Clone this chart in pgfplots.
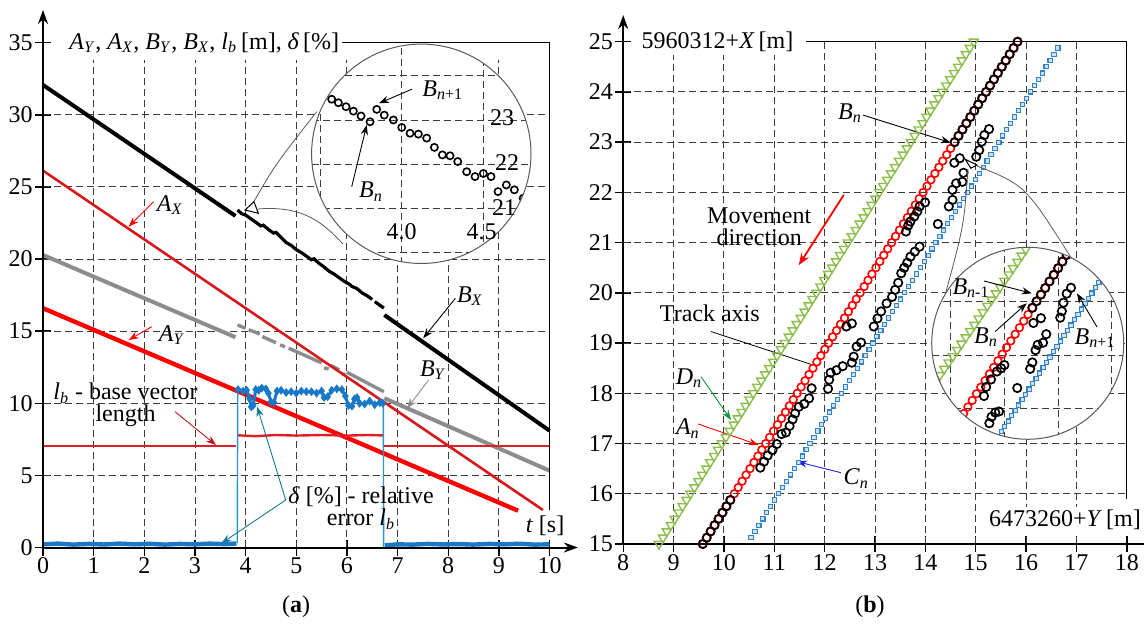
\documentclass[border=0pt]{standalone}
\usepackage{fontspec}
\setmainfont{Liberation Serif}
\usepackage{pgfplots}
\pgfplotsset{compat=1.18}
\usetikzlibrary{arrows.meta}
\newcommand{\sub}[2]{\textit{#1}\textsubscript{\textit{#2}}}
\definecolor{redX}{RGB}{215,25,30}
\definecolor{redA}{RGB}{255,0,0}
\definecolor{lbred}{RGB}{225,30,40}
\definecolor{grayB}{RGB}{140,140,140}
\definecolor{blueD}{RGB}{25,120,200}
\definecolor{blueV}{RGB}{40,150,200}
\definecolor{tealA}{RGB}{20,120,150}
\definecolor{darkred}{RGB}{180,20,30}
\definecolor{greenD}{RGB}{140,190,75}
\definecolor{greenA}{RGB}{20,150,60}
\definecolor{blueC}{RGB}{50,130,200}
\definecolor{blueCa}{RGB}{30,30,230}
\definecolor{gridc}{RGB}{60,60,60}
\tikzset{
 gridst/.style={gridc, line width=0.45pt, dash pattern=on 3.5pt off 2pt},
 arr/.style={-{Stealth[length=5pt,width=3.6pt]}, line width=0.45pt},
}
\pgfplotsset{
 mainax/.style={scale only axis, anchor=south west, axis line style={draw=none}, tick pos=left, tick align=center, major tick length=8pt, tick style={black,line width=0.7pt}, /pgf/number format/assume math mode=true, ticklabel style={font=\fontsize{12}{12}\selectfont, inner sep=1pt}, clip=false},
 inax/.style={scale only axis, anchor=south west, hide axis, clip=false},
 cmark/.style={only marks, blueC, mark=square*, mark size=1.05pt, mark options={fill=blueC!25, line width=0.55pt}},
}
\begin{document}
\fontsize{12}{11}\selectfont
\begin{tikzpicture}
\useasboundingbox (0,0) rectangle (572pt,313pt);
% ================= LEFT PANEL =================
\begin{axis}[mainax, at={(21.5pt,39.25pt)}, width=253.25pt, height=252.4pt,
  xmin=0,xmax=10,ymin=0,ymax=35, xtick={0,...,10}, ytick={0,5,...,35}]
\pgfplotsinvokeforeach{1,...,9}{\draw[gridst] (axis cs:#1,0) -- (axis cs:#1,33.8);}
\pgfplotsinvokeforeach{5,10,...,30}{\draw[gridst] (axis cs:0,#1) -- (axis cs:10,#1);}
% B_Y
\addplot[grayB, line width=2pt] coordinates {(0,20.28) (3.80,14.58)};
\addplot[grayB, line width=1.7pt, unbounded coords=jump] table {
x y
3.84 15.43
4.00 15.20
4.03 nan
4.06 15.10
4.28 14.80
4.30 nan
4.33 14.62
4.60 14.20
4.64 nan
4.68 14.05
4.78 13.92
4.81 nan
4.85 13.82
5.50 12.80
5.52 nan
5.55 12.45
5.64 12.38
5.66 nan
5.68 12.62
5.85 12.32
5.87 nan
5.90 12.05
5.97 12.00
5.99 nan
6.00 12.15
6.73 10.80
};
\addplot[grayB, line width=2pt] coordinates {(6.74,10.35) (10,5.33)};
% B_X
\addplot[black, line width=2pt] coordinates {(0,32.07) (3.80,22.99)};
\addplot[black, line width=1.6pt] coordinates {(3.84,23.40) (3.92,23.15) (4.00,23.05) (4.10,22.80) (4.20,22.55) (4.30,22.30) (4.35,22.35) (4.45,22.05) (4.55,21.80) (4.60,21.85) (4.70,21.50) (4.80,21.15) (4.90,20.95) (5.00,20.65) (5.10,20.45) (5.20,20.20) (5.30,19.95) (5.35,20.02) (5.45,19.70) (5.55,19.45) (5.65,19.15) (5.75,18.95) (5.85,18.70) (5.95,18.45) (6.05,18.25) (6.10,18.10) (6.20,17.95) (6.30,17.65) (6.40,17.45) (6.50,17.20)};
\addplot[black, line width=1.6pt] coordinates {(6.55,17.05) (6.73,16.60)};
\addplot[black, line width=2pt] coordinates {(6.74,16.12) (10,8.10)};
% A_X
\addplot[redX, line width=1.3pt] coordinates {(0,26.13) (9.87,2.60)};
% A_Y
\addplot[redA, line width=2.2pt] coordinates {(0,16.59) (9.38,2.55)};
% l_b
\addplot[lbred, line width=1.2pt] coordinates {(0,7.05) (3.82,7.05)};
\addplot[lbred, line width=1.2pt] coordinates {(3.84,7.78) (4.2,7.72) (4.6,7.80) (5.0,7.76) (5.5,7.80) (6.0,7.76) (6.4,7.80) (6.72,7.77)};
\addplot[lbred, line width=1.2pt] coordinates {(6.74,7.05) (10,7.05)};
% delta
\addplot[blueD, line width=2.2pt] coordinates {(0,0.22) (0.3,0.27) (0.6,0.20) (0.9,0.25) (1.2,0.21) (1.5,0.27) (1.8,0.22) (2.1,0.26) (2.4,0.20) (2.7,0.25) (3.0,0.22) (3.3,0.27) (3.6,0.23) (3.82,0.28)};
\addplot[blueV, line width=0.7pt] coordinates {(3.835,0.30) (3.845,10.95)};
\addplot[blueD, line width=1.5pt, mark=diamond*, mark size=1pt] coordinates {(3.85,10.95) (3.95,10.85) (4.02,10.90) (4.08,10.30) (4.11,9.75) (4.15,9.85) (4.20,10.95) (4.26,10.90) (4.32,11.05) (4.40,11.00) (4.45,10.70) (4.50,10.10) (4.56,10.05) (4.62,10.85) (4.70,10.90) (4.80,10.75) (4.90,10.80) (5.00,10.70) (5.10,10.85) (5.20,10.80) (5.30,10.80) (5.40,10.70) (5.50,10.85) (5.55,10.40) (5.62,10.45) (5.70,10.90) (5.80,11.00) (5.90,10.95) (5.97,10.50) (6.03,9.85) (6.10,9.80) (6.15,10.30) (6.20,10.40) (6.25,10.00) (6.35,9.95) (6.45,10.15) (6.55,9.90) (6.65,10.05) (6.71,10.00)};
\addplot[blueV, line width=0.7pt] coordinates {(6.72,10.00) (6.725,-0.10)};
\addplot[blueD, line width=2.2pt] coordinates {(6.75,0.15) (7.0,0.22) (7.3,0.20) (7.6,0.25) (7.9,0.21) (8.2,0.24) (8.5,0.20) (8.8,0.25) (9.1,0.22) (9.4,0.26) (9.7,0.20) (10,0.22)};
% axes lines
\draw[line width=1pt,-{Stealth[length=7pt,width=5pt]}] (axis cs:0,0) -- (axis cs:10.56,0);
\draw[line width=1pt,-{Stealth[length=7pt,width=5pt]}] (axis cs:0,0) -- (axis cs:0,37.27);
\draw[line width=0.6pt] (axis cs:5.81,35) -- (axis cs:10,35) -- (axis cs:10,2.6);
\end{axis}
% ---- left inset ----
\begin{scope}
\clip (210.65pt,236.1pt) circle (54.85pt);
\fill[white] (210.65pt,236.1pt) circle (54.85pt);
\begin{axis}[inax, at={(155.8pt,181.2pt)}, width=109.7pt, height=109.8pt,
  xmin=3.448, xmax=4.792, ymin=19.751, ymax=24.719]
\pgfplotsinvokeforeach{3.5,4.0,4.5}{\draw[gridst] (axis cs:#1,19.751) -- (axis cs:#1,24.719);}
\pgfplotsinvokeforeach{20,...,24}{\draw[gridst] (axis cs:3.448,#1) -- (axis cs:4.792,#1);}
\addplot[only marks, mark=o, mark size=1.8pt, black, mark options={line width=0.8pt}] coordinates {
(3.47,23.68) (3.52,23.58) (3.571,23.47) (3.612,23.39) (3.659,23.30) (3.704,23.20) (3.751,23.09) (3.806,22.96)
(3.847,23.24) (3.893,23.11) (3.949,23.00) (4.000,22.83) (4.051,22.70) (4.102,22.68) (4.153,22.59) (4.200,22.38)
(4.249,22.21) (4.296,22.19) (4.343,22.06) (4.398,21.83) (4.449,21.72) (4.500,21.79) (4.547,21.72) (4.590,21.38)
(4.641,21.53) (4.690,21.42) (4.744,21.23) (4.79,21.10)};
\end{axis}
\end{scope}
\draw[gray!70!black, line width=0.5pt] (210.65pt,236.1pt) circle (54.85pt);
% ================= RIGHT PANEL =================
\begin{axis}[mainax, at={(311.6pt,41pt)}, width=251.8pt, height=251.15pt,
  xmin=8,xmax=18,ymin=15,ymax=25, xtick={8,...,18}, ytick={15,...,25}]
\pgfplotsinvokeforeach{9,...,17}{\draw[gridst] (axis cs:#1,15) -- (axis cs:#1,25);}
\pgfplotsinvokeforeach{16,...,24}{\draw[gridst] (axis cs:8,#1) -- (axis cs:18,#1);}
% C_n
\addplot[cmark] coordinates {
(10.538,15.125) (10.616,15.25) (10.694,15.375) (10.773,15.5) (10.851,15.625) (10.929,15.75) (11.007,15.875) (11.085,16)
(11.163,16.125) (11.241,16.25) (11.319,16.375) (11.398,16.5) (11.476,16.625) (11.554,16.75) (11.632,16.875) (11.710,17)
(11.788,17.125) (11.866,17.25) (11.944,17.375) (12.023,17.5) (12.101,17.625) (12.179,17.75) (12.257,17.875) (12.335,18)
(12.413,18.125) (12.491,18.25) (12.569,18.375) (12.648,18.5) (12.726,18.625) (12.804,18.75) (12.882,18.875) (12.960,19)
(13.038,19.125) (13.116,19.25) (13.194,19.375) (13.273,19.5) (13.351,19.625) (13.429,19.75) (13.507,19.875) (13.585,20)
(13.663,20.125) (13.741,20.25) (13.819,20.375) (13.898,20.5) (13.976,20.625) (14.054,20.75) (14.132,20.875) (14.210,21)
(14.288,21.125) (14.366,21.25) (14.444,21.375) (14.523,21.5) (14.601,21.625) (14.679,21.75) (14.757,21.875) (14.835,22)
(14.913,22.125) (14.991,22.25) (15.069,22.375) (15.148,22.5) (15.226,22.625) (15.304,22.75) (15.382,22.875) (15.460,23)
(15.538,23.125) (15.616,23.25) (15.694,23.375) (15.773,23.5) (15.851,23.625) (15.929,23.75) (16.007,23.875) (16.085,24)
(16.163,24.125) (16.241,24.25) (16.319,24.375) (16.398,24.5) (16.476,24.625) (16.554,24.75) (16.632,24.875)};
% D_n
\addplot[only marks, greenD, mark=triangle, mark size=2.6pt, mark options={rotate=180, line width=0.7pt}] coordinates {
(8.710,15) (8.788,15.125) (8.866,15.25) (8.944,15.375) (9.023,15.5) (9.101,15.625) (9.179,15.75) (9.257,15.875) (9.335,16)
(9.413,16.125) (9.491,16.25) (9.569,16.375) (9.648,16.5) (9.726,16.625) (9.804,16.75) (9.882,16.875) (9.960,17)
(10.038,17.125) (10.116,17.25) (10.194,17.375) (10.273,17.5) (10.351,17.625) (10.429,17.75) (10.507,17.875) (10.585,18)
(10.663,18.125) (10.741,18.25) (10.819,18.375) (10.898,18.5) (10.976,18.625) (11.054,18.75) (11.132,18.875) (11.210,19)
(11.288,19.125) (11.366,19.25) (11.444,19.375) (11.523,19.5) (11.601,19.625) (11.679,19.75) (11.757,19.875) (11.835,20)
(11.913,20.125) (11.991,20.25) (12.069,20.375) (12.148,20.5) (12.226,20.625) (12.304,20.75) (12.382,20.875) (12.460,21)
(12.538,21.125) (12.616,21.25) (12.694,21.375) (12.773,21.5) (12.851,21.625) (12.929,21.75) (13.007,21.875) (13.085,22)
(13.163,22.125) (13.241,22.25) (13.319,22.375) (13.398,22.5) (13.476,22.625) (13.554,22.75) (13.632,22.875) (13.710,23)
(13.788,23.125) (13.866,23.25) (13.944,23.375) (14.023,23.5) (14.101,23.625) (14.179,23.75) (14.257,23.875) (14.335,24)
(14.413,24.125) (14.491,24.25) (14.569,24.375) (14.648,24.5) (14.726,24.625) (14.804,24.75) (14.882,24.875) (14.960,25)};
% A_n
\addplot[only marks, redA, mark=o, mark size=1.9pt, mark options={line width=0.8pt}] coordinates {
(9.580,15) (9.658,15.125) (9.736,15.25) (9.814,15.375) (9.893,15.5) (9.971,15.625) (10.049,15.75) (10.127,15.875) (10.205,16)
(10.283,16.125) (10.361,16.25) (10.439,16.375) (10.518,16.5) (10.596,16.625) (10.674,16.75) (10.752,16.875) (10.830,17)
(10.908,17.125) (10.986,17.25) (11.064,17.375) (11.143,17.5) (11.221,17.625) (11.299,17.75) (11.377,17.875) (11.455,18)
(11.533,18.125) (11.611,18.25) (11.689,18.375) (11.768,18.5) (11.846,18.625) (11.924,18.75) (12.002,18.875) (12.080,19)
(12.158,19.125) (12.236,19.25) (12.314,19.375) (12.393,19.5) (12.471,19.625) (12.549,19.75) (12.627,19.875) (12.705,20)
(12.783,20.125) (12.861,20.25) (12.939,20.375) (13.018,20.5) (13.096,20.625) (13.174,20.75) (13.252,20.875) (13.330,21)
(13.408,21.125) (13.486,21.25) (13.564,21.375) (13.643,21.5) (13.721,21.625) (13.799,21.75) (13.877,21.875) (13.955,22)
(14.033,22.125) (14.111,22.25) (14.189,22.375) (14.268,22.5) (14.346,22.625) (14.424,22.75) (14.502,22.875) (14.580,23)
(14.658,23.125) (14.736,23.25) (14.814,23.375) (14.893,23.5) (14.971,23.625) (15.049,23.75) (15.127,23.875) (15.205,24)
(15.283,24.125) (15.361,24.25) (15.439,24.375) (15.518,24.5) (15.596,24.625) (15.674,24.75) (15.752,24.875) (15.830,25)};
% B_n
\addplot[only marks, black, mark=o, mark size=2.1pt, mark options={line width=0.85pt}] coordinates {
(9.580,15) (9.658,15.125) (9.736,15.25) (9.814,15.375) (9.893,15.5) (9.971,15.625) (10.049,15.75) (10.127,15.875)
(10.723,16.52) (10.796,16.64) (10.868,16.76) (10.963,16.87) (11.050,16.99) (11.144,17.19) (11.232,17.22) (11.304,17.35)
(11.363,17.48) (11.413,17.60) (11.486,17.73) (11.595,17.79) (11.690,17.90) (11.741,18.10)
(12.068,18.09) (12.089,18.27) (12.118,18.41) (12.235,18.46) (12.358,18.54) (12.540,18.61) (12.576,18.73) (12.635,18.93)
(12.722,19.01) (12.431,19.33) (12.540,19.39)
(12.976,19.33) (13.049,19.49) (13.121,19.63) (13.230,19.79) (13.339,19.92) (13.40,20.06) (13.46,20.20) (13.521,20.39)
(13.58,20.50) (13.64,20.60) (13.703,20.72) (13.79,20.82) (13.885,20.92)
(14.248,21.37)
(13.615,21.22) (13.66,21.34) (13.703,21.42) (13.78,21.52) (13.84,21.62) (13.885,21.72) (13.993,21.80)
(14.466,21.72) (14.539,21.85) (14.539,22.05) (14.611,22.18) (14.735,22.21) (14.757,22.39) (14.575,22.59) (14.684,22.68)
(15.011,22.71) (15.069,22.84) (15.120,23.01) (15.171,23.14) (15.265,23.26)
(14.580,23) (14.658,23.125) (14.736,23.25) (14.814,23.375) (14.893,23.5) (14.971,23.625) (15.049,23.75) (15.127,23.875)
(15.205,24) (15.283,24.125) (15.361,24.25) (15.439,24.375) (15.518,24.5) (15.596,24.625) (15.674,24.75) (15.752,24.875) (15.830,25)};
% axes lines
\draw[line width=1pt,-{Stealth[length=7pt,width=5pt]}] (axis cs:8,15) -- (axis cs:8,25.53);
\draw[line width=1pt] (axis cs:8,15) -- (axis cs:18.35,15);
\draw[line width=0.6pt] (axis cs:11.63,25) -- (axis cs:18,25) -- (axis cs:18,15.9);
% annotations
\node[anchor=west,fill=white,inner sep=1.5pt] at (axis cs:8.3,25) {5960312+\textit{X}\,[m]};
\node[anchor=west,fill=white,inner sep=1.5pt] at (axis cs:15.2,15.48) {6473260+\textit{Y}\,[m]};
\node at (axis cs:9.72,19.59) {Track axis};
\draw[line width=0.4pt] (axis cs:9.74,19.23) -- (axis cs:11.78,18.56);
\node at (axis cs:9.306,18.298) {\sub{D}{n}};
\draw[arr,greenA] (axis cs:9.546,18.33) -- (axis cs:10.141,17.469);
\node at (axis cs:9.284,17.303) {\sub{A}{n}};
\draw[arr,redA] (axis cs:9.487,17.39) -- (axis cs:10.687,16.971);
\node at (axis cs:12.627,16.307) {\sub{C}{n}};
\draw[arr,blueCa] (axis cs:12.322,16.42) -- (axis cs:11.45,16.64);
\node at (axis cs:12.503,23.574) {\sub{B}{n}};
\draw[arr] (axis cs:12.758,23.54) -- (axis cs:14.502,22.99);
\node[align=center] at (axis cs:10.70,21.32) {Movement\\direction};
\draw[-{Stealth[length=6pt,width=4.5pt]},redA,line width=0.9pt] (axis cs:12.38,21.95) -- (axis cs:11.486,20.55);
\end{axis}
% ---- right inset ----
\begin{scope}
\clip (513.85pt,141.35pt) circle (48pt);
\fill[white] (513.85pt,141.35pt) circle (48pt);
\begin{axis}[inax, at={(466pt,93.35pt)}, width=95.8pt, height=96pt,
  xmin=0.652, xmax=4.22, ymin=0.418, ymax=4.02]
\pgfplotsinvokeforeach{1,2,3,4}{\draw[gridst] (axis cs:#1,0.418) -- (axis cs:#1,4.02);}
\pgfplotsinvokeforeach{1,2,3}{\draw[gridst] (axis cs:0.652,#1) -- (axis cs:4.22,#1);}
\addplot[cmark] coordinates {
(1.875,0.46) (1.94,0.56) (2.005,0.66) (2.07,0.76) (2.135,0.86) (2.20,0.96) (2.265,1.06) (2.33,1.16) (2.395,1.26) (2.46,1.36)
(2.525,1.46) (2.59,1.56) (2.655,1.66) (2.72,1.76) (2.785,1.86) (2.85,1.96) (2.915,2.06) (2.98,2.16) (3.045,2.26)
(3.11,2.36) (3.175,2.46) (3.24,2.56) (3.305,2.66) (3.37,2.76) (3.435,2.86) (3.50,2.96) (3.565,3.06) (3.63,3.16)
(3.695,3.26) (3.76,3.36) (3.825,3.46) (3.89,3.56)};
\addplot[only marks, greenD, mark=triangle, mark size=2.6pt, mark options={rotate=180, line width=0.7pt}] coordinates {
(0.64,1.384) (0.72,1.502) (0.80,1.620) (0.88,1.738) (0.96,1.856) (1.04,1.974) (1.12,2.092) (1.20,2.210) (1.28,2.328)
(1.36,2.446) (1.44,2.564) (1.52,2.682) (1.60,2.800) (1.68,2.918) (1.76,3.036) (1.84,3.154) (1.92,3.272) (2.00,3.390)
(2.08,3.508) (2.16,3.626) (2.24,3.744) (2.32,3.862) (2.40,3.980)};
\addplot[only marks, redA, mark=o, mark size=1.9pt, mark options={line width=0.8pt}] coordinates {
(1.08,0.652) (1.16,0.776) (1.24,0.900) (1.32,1.024) (1.40,1.148) (1.48,1.272) (1.56,1.396) (1.64,1.520) (1.72,1.644)
(1.80,1.768) (1.88,1.892) (1.96,2.016) (2.04,2.140) (2.12,2.264) (2.20,2.388) (2.28,2.512) (2.36,2.636) (2.44,2.760)
(2.52,2.884) (2.60,3.008) (2.68,3.132) (2.76,3.256) (2.84,3.380) (2.92,3.504) (3.00,3.628) (3.08,3.752) (3.16,3.876)};
\addplot[only marks, black, mark=o, mark size=2.1pt, mark options={line width=0.85pt}] coordinates {
(1.72,0.72) (1.76,0.84) (1.83,0.92) (1.90,0.94) (1.62,1.23) (1.66,1.40) (1.75,1.54) (1.86,1.69) (1.94,1.75) (2.00,1.81)
(2.24,1.38) (2.48,1.74) (2.52,1.86) (2.58,2.09) (2.62,2.19) (2.72,2.23) (2.78,2.39) (2.54,2.60) (2.68,2.69)
(3.04,2.70) (3.07,2.82) (3.10,2.98) (3.16,3.15) (3.24,3.26)
(2.52,2.884) (2.60,3.008) (2.68,3.132) (2.76,3.256) (2.84,3.380) (2.92,3.504) (3.00,3.628) (3.08,3.752) (3.16,3.876)};
\end{axis}
\end{scope}
\draw[gray!70!black, line width=0.5pt] (513.85pt,141.35pt) circle (48pt);
% ================= ANNOTATIONS (pixel frame) =================
\begin{scope}[x=0.5pt,y=-0.5pt,yshift=313pt]
% left panel
\node[anchor=west,fill=white,inner sep=1.5pt] at (66,42.7) {\sub{A}{Y}, \sub{A}{X}, \sub{B}{Y}, \sub{B}{X}, \sub{l}{b}\,[m], \textit{δ}\,[\%]};
\node at (170,205) {\sub{A}{X}};
\draw[arr,redA] (153.6,201.7) -- (128.6,226.7);
\node at (172,335) {\sub{A}{Y}};
\draw[arr,redA] (151.8,326.7) -- (128.6,340);
\node at (470,296) {\sub{B}{X}};
\draw[arr,black] (455.4,298.3) -- (423.2,338.3);
\node at (433,370) {\sub{B}{Y}};
\draw[arr,grayB] (428.6,380) -- (407.1,408.3);
\node[align=center] at (125.5,405) {\sub{l}{b} - base vector\\length};
\draw[arr,darkred] (175,411.7) -- (216,445);
\node[align=center] at (361,508) {\textit{δ} [\%] - relative\\error \sub{l}{b}};
\draw[arr,tealA] (285.7,500) -- (257.1,406.7);
\draw[arr,tealA] (285.7,500) -- (221.4,543.3);
\node[fill=white,inner sep=1pt] at (545,526) {\textit{t} [s]};
% left inset pointer and labels
\draw[gray!70!black,line width=0.4pt] (253,203) .. controls (275,165) .. (316.7,111.7);
\draw[gray!70!black,line width=0.4pt] (258,209) .. controls (305,205) and (325,225) .. (343,244);
\draw[black,fill=white,line width=0.5pt] (245,210) -- (254,201.7) -- (258.3,213.3) -- cycle;
\node[anchor=west] at (414,90) {\textit{B}\textsubscript{\textit{n}+1}};
\draw[arr] (411.7,89.3) -- (379,103.3);
\node at (371,191.7) {\sub{B}{n}};
\draw[arr] (351.7,186.7) -- (366.7,125);
\node at (502,118) {23};
\node at (507,163) {22};
\node at (504,208) {21};
\node at (401.7,231.7) {4.0};
\node at (481.7,231.7) {4.5};
% right inset pointer and labels
\draw[gray!70!black,line width=0.4pt] (968,169) .. controls (964,225) .. (945.7,293);
\draw[gray!70!black,line width=0.4pt] (977,166) .. controls (1025,185) .. (1071.5,258.3);
\draw[black,fill=white,line width=0.5pt] (965.3,159.3) -- (977,165) -- (970.8,168.3) -- cycle;
\node at (1095,338.3) {\textit{B}\textsubscript{\textit{n}+1}};
\draw[arr] (1097,327) -- (1077,293.3);
\node at (986,337) {\sub{B}{n}};
\draw[arr] (995,331.7) -- (1026.7,303.3);
\node at (971,288) {\textit{B}\textsubscript{\textit{n}-1}};
\draw[arr] (984,281) -- (1031.7,293.3);
% captions
\node at (296,607) {(\textbf{a})};
\node at (870,607) {(\textbf{b})};
\end{scope}
\end{tikzpicture}
\end{document}
